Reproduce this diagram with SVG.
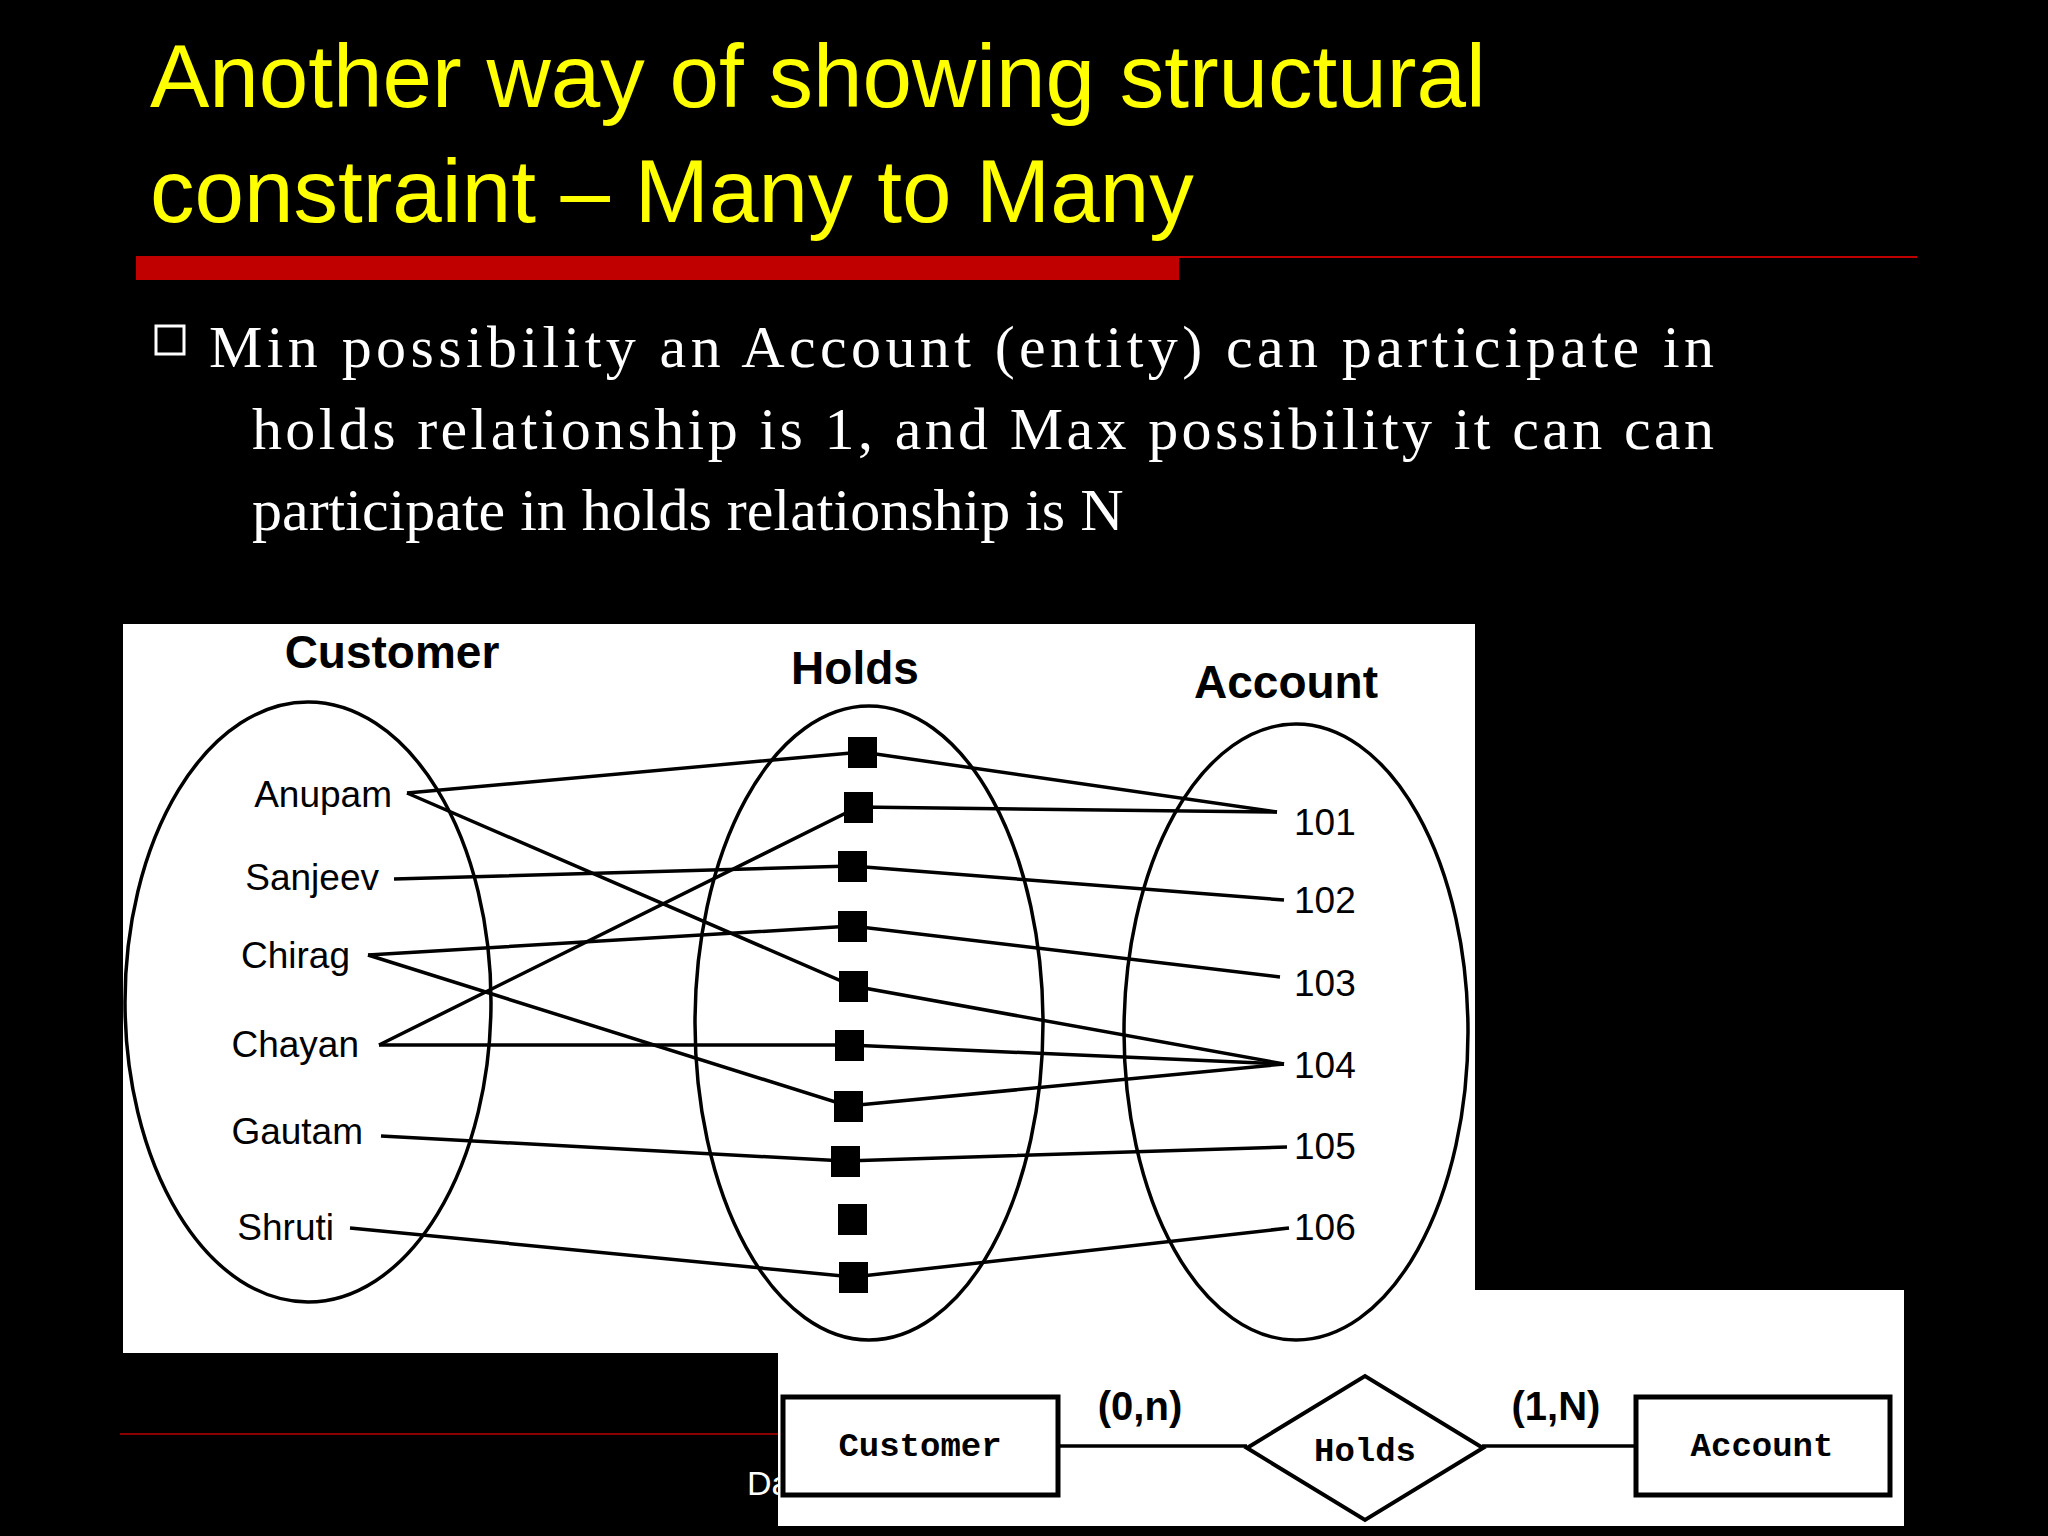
<svg xmlns="http://www.w3.org/2000/svg" width="2048" height="1536" viewBox="0 0 2048 1536">
<style>
.title{font-family:"Liberation Sans",Arial,sans-serif;font-size:89px;fill:#ffff00}
.body{font-family:"Liberation Serif","Times New Roman",serif;font-size:60px;fill:#fff}
.hd{font-family:"Liberation Sans",Arial,sans-serif;font-size:46px;font-weight:bold;fill:#000;text-anchor:middle}
.nm{font-family:"Liberation Sans",Arial,sans-serif;font-size:37px;fill:#000}
.ell{fill:none;stroke:#000;stroke-width:3.5}
.ln{stroke:#000;stroke-width:3.5;fill:none}
.sq{fill:#000}
.er{font-family:"Liberation Mono","Courier New",monospace;font-size:34px;font-weight:bold;fill:#000;text-anchor:middle}
.card{font-family:"Liberation Sans",Arial,sans-serif;font-size:40px;font-weight:bold;fill:#000;text-anchor:middle}
</style>
<rect width="2048" height="1536" fill="#000"/>
<text class="title" x="150" y="107">Another way of showing structural</text>
<text class="title" x="150" y="222">constraint – Many to Many</text>
<rect x="136" y="256" width="1043" height="24" fill="#c00000"/>
<line x1="1179" y1="257" x2="1917" y2="257" stroke="#c00000" stroke-width="2"/>
<rect x="156" y="326" width="28" height="28" fill="none" stroke="#fff" stroke-width="3"/>
<text class="body" x="209" y="367" textLength="1505" lengthAdjust="spacing">Min possibility an Account (entity) can participate in</text>
<text class="body" x="252" y="449" textLength="1462" lengthAdjust="spacing">holds relationship is 1, and Max possibility it can can</text>
<text class="body" x="252" y="530">participate in holds relationship is N</text>
<line x1="120" y1="1434" x2="778" y2="1434" stroke="#8b0000" stroke-width="2"/>
<text x="747" y="1495" font-family="Liberation Sans,Arial,sans-serif" font-size="34" fill="#fff">Da</text>
<text x="1878" y="1495" font-family="Liberation Sans,Arial,sans-serif" font-size="34" fill="#fff">3</text>
<rect x="123" y="624" width="1352" height="729" fill="#fff"/>
<rect x="778" y="1290" width="1126" height="236" fill="#fff"/>
<g id="customer"><ellipse class="ell" cx="308" cy="1002" rx="183" ry="300"/><text class="hd" x="392" y="668">Customer</text>
<text class="nm" text-anchor="end" x="392" y="807">Anupam</text><text class="nm" text-anchor="end" x="379" y="890">Sanjeev</text><text class="nm" text-anchor="end" x="350" y="968">Chirag</text><text class="nm" text-anchor="end" x="359" y="1057">Chayan</text><text class="nm" text-anchor="end" x="363" y="1144">Gautam</text><text class="nm" text-anchor="end" x="334" y="1240">Shruti</text></g>
<g id="holds"><ellipse class="ell" cx="869" cy="1023" rx="174" ry="317"/><text class="hd" x="855" y="684">Holds</text>
<rect class="sq" x="848" y="737" width="29" height="31"/><rect class="sq" x="844" y="792" width="29" height="31"/><rect class="sq" x="838" y="851" width="29" height="31"/><rect class="sq" x="838" y="911" width="29" height="31"/><rect class="sq" x="839" y="971" width="29" height="31"/><rect class="sq" x="835" y="1030" width="29" height="31"/><rect class="sq" x="834" y="1091" width="29" height="31"/><rect class="sq" x="831" y="1146" width="29" height="31"/><rect class="sq" x="838" y="1204" width="29" height="31"/><rect class="sq" x="839" y="1262" width="29" height="31"/></g>
<g id="account"><ellipse class="ell" cx="1296" cy="1032" rx="172" ry="308"/><text class="hd" x="1286" y="698">Account</text>
<text class="nm" x="1294" y="835">101</text><text class="nm" x="1294" y="913">102</text><text class="nm" x="1294" y="996">103</text><text class="nm" x="1294" y="1078">104</text><text class="nm" x="1294" y="1159">105</text><text class="nm" x="1294" y="1240">106</text></g>
<g id="connectors">
<polyline class="ln" points="407,793 862,752 1277,812"/>
<polyline class="ln" points="407,793 853,986 1284,1064"/>
<polyline class="ln" points="379,1045 858,807 1277,812"/>
<polyline class="ln" points="394,879 852,866 1284,900"/>
<polyline class="ln" points="368,955 852,926 1280,977"/>
<polyline class="ln" points="368,955 848,1106 1284,1064"/>
<polyline class="ln" points="379,1045 849,1045 1284,1064"/>
<polyline class="ln" points="381,1136 845,1161 1287,1147"/>
<polyline class="ln" points="350,1228 853,1277 1289,1228"/>
<line class="ln" x1="1058" y1="1446" x2="1247" y2="1446" stroke-width="5"/>
<line class="ln" x1="1482" y1="1446" x2="1635" y2="1446" stroke-width="5"/>
</g>
<g id="er-customer"><rect x="783" y="1397" width="275" height="98" fill="#fff" stroke="#000" stroke-width="5"/><text class="er" x="920" y="1456">Customer</text></g>
<g id="er-holds"><polygon points="1247,1448 1365,1376 1483,1448 1365,1520" fill="#fff" stroke="#000" stroke-width="4"/><text class="er" x="1365" y="1461" font-weight="normal">Holds</text></g>
<g id="er-account"><rect x="1636" y="1397" width="254" height="98" fill="#fff" stroke="#000" stroke-width="5"/><text class="er" x="1762" y="1456">Account</text></g>
<text class="card" x="1140" y="1420">(0,n)</text>
<text class="card" x="1556" y="1420">(1,N)</text>
</svg>
